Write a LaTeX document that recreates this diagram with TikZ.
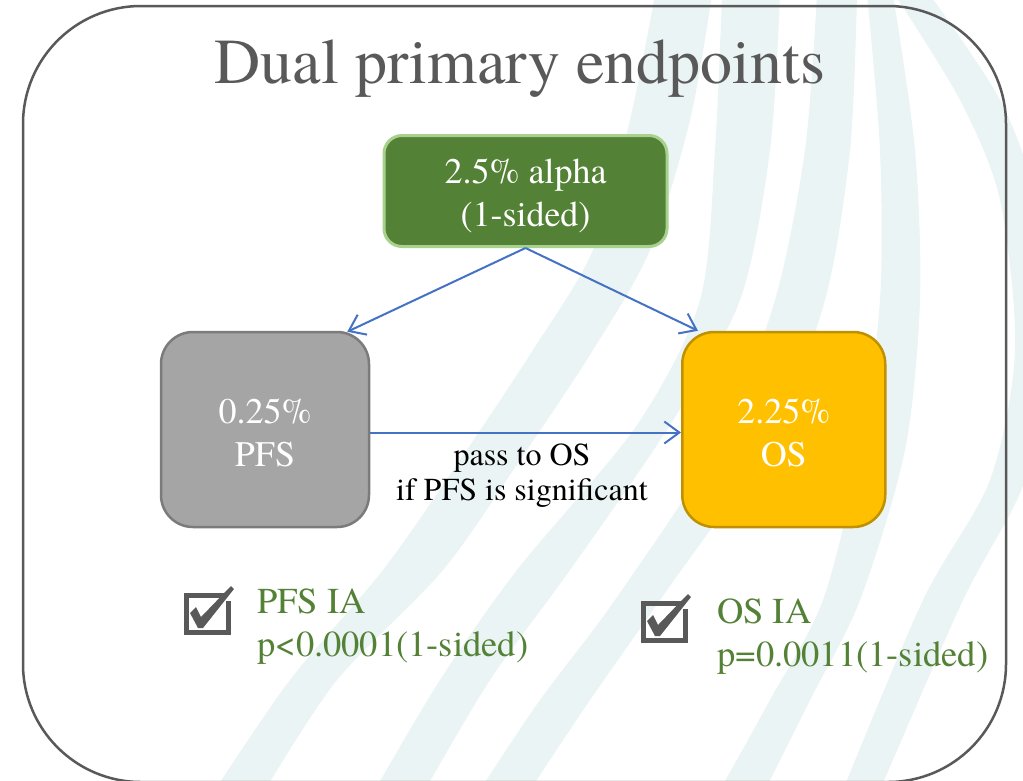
\documentclass[tikz,border=0pt]{standalone}
\usepackage{fontspec}
\setmainfont{TeX Gyre Termes}
\usetikzlibrary{arrows.meta,calc}

\definecolor{framegray}{HTML}{595959}
\definecolor{swoosh}{RGB}{235,244,244}
\definecolor{alphafill}{HTML}{538135}
\definecolor{alphaline}{HTML}{A9D18E}
\definecolor{pfsfill}{HTML}{A5A5A5}
\definecolor{pfsline}{HTML}{7B7B7B}
\definecolor{osfill}{HTML}{FFC000}
\definecolor{osline}{HTML}{BF9000}
\definecolor{flowblue}{HTML}{4472C4}
\definecolor{resultgreen}{HTML}{538135}

% a strut taller than the first line pushes two-line box text slightly down
\newcommand{\lowerstrut}[1]{\rule{0pt}{#1}}

\tikzset{
  budget/.style={inner sep=0pt, align=center, text=white,
    font=\fontsize{36}{43}\selectfont},
  flow/.style={draw=flowblue, line width=2pt,
    -{Straight Barb[length=15pt,width=22pt,line width=2pt]}},
  result/.style={inner sep=0pt, anchor=north west, align=left,
    text=resultgreen, font=\fontsize{36.5}{43}\selectfont},
  tick box/.pic={
    \draw[draw=framegray, line width=5pt] (2.5,2.5) rectangle (44.5,39.5);
    \fill[white] (40,-2) -- (50,-2) -- (50,8) -- (40,8) -- cycle;
    \fill[framegray] (6,20) -- (12,14) -- (17,24) -- (47,-7) -- (50,-4)
      -- (19,35) -- (14,35) -- cycle;
  }
}

\begin{document}
\begin{tikzpicture}[x=1pt,y=-1pt]
\useasboundingbox (0,0) rectangle (1023,780);
\fill[white] (0,0) rectangle (1023,780);

% faint sweeping bands in the background
\fill[swoosh] plot[smooth] coordinates {(655,-5) (630,120) (593,250) (533,350) (460,460) (383,570) (290,680) (215,790)}
  -- plot[smooth] coordinates {(265,790) (337,680) (443,570) (520,460) (593,350) (650,250) (690,120) (712,-5)} -- cycle;
\fill[swoosh] plot[smooth] coordinates {(722,-5) (715,150) (700,300) (637,425) (517,570) (440,680) (375,790)}
  -- plot[smooth] coordinates {(425,790) (490,680) (570,570) (670,425) (740,300) (770,150) (780,-5)} -- cycle;
\fill[swoosh] plot[smooth] coordinates {(817,-5) (805,150) (775,300) (720,440) (615,600) (540,700) (480,790)}
  -- plot[smooth] coordinates {(530,790) (590,700) (660,600) (770,440) (825,300) (850,150) (857,-5)} -- cycle;
\fill[swoosh] plot[smooth] coordinates {(867,-5) (880,150) (880,300) (860,450) (823,600) (770,700) (720,790)}
  -- plot[smooth] coordinates {(765,790) (810,700) (860,600) (905,450) (920,300) (915,150) (893,-5)} -- cycle;
\fill[swoosh] plot[smooth] coordinates {(895,-5) (960,100) (1000,200) (1015,350) (990,480) (923,600) (843,790)}
  -- plot[smooth] coordinates {(880,790) (963,600) (1025,480) (1045,350) (1035,200) (1000,100) (930,-5)} -- cycle;

% outer frame
\draw[framegray, line width=2.5pt, rounded corners=118pt] (23,6) rectangle (1006,782);

% title
\node[anchor=base, text=framegray, inner sep=0pt, font=\fontsize{64}{70}\selectfont]
  (title) at (520,83) {Dual primary endpoints};

% alpha split
\node[budget, fill=alphafill, draw=alphaline, line width=3pt, rounded corners=18pt,
  minimum width=283pt, minimum height=111pt] (alpha) at (525.5,191)
  {\lowerstrut{34pt}2.5\% alpha\\(1-sided)};
\node[budget, fill=pfsfill, draw=pfsline, line width=2.5pt, rounded corners=32pt,
  minimum width=208pt, minimum height=195pt] (pfs) at (265,429.5)
  {\lowerstrut{32pt}0.25\%\\PFS};
\node[budget, fill=osfill, draw=osline, line width=2.5pt, rounded corners=32pt,
  minimum width=203pt, minimum height=195pt] (os) at (783.75,429.5)
  {\lowerstrut{32pt}2.25\%\\OS};

\draw[flow] (alpha.south) -- ($(pfs.north east)+(-23,1)$);
\draw[flow] (alpha.south) -- ($(os.north west)+(17,0)$);
\draw[flow] ($(pfs.east)+(0,3)$) -- ($(os.west)+(0,3)$);

\node[inner sep=0pt, align=center, font=\fontsize{32}{35}\selectfont]
  (pass) at (522,476) {pass to OS\\if PFS is significant};

% interim analysis results
\pic at (184,593) {tick box};
\node[result] (pfsia) at (257,589) {PFS IA\\p<0.0001(1-sided)};
\pic at (641,601) {tick box};
\node[result] (osia) at (717,598.5) {OS IA\\p=0.0011(1-sided)};
\end{tikzpicture}
\end{document}
